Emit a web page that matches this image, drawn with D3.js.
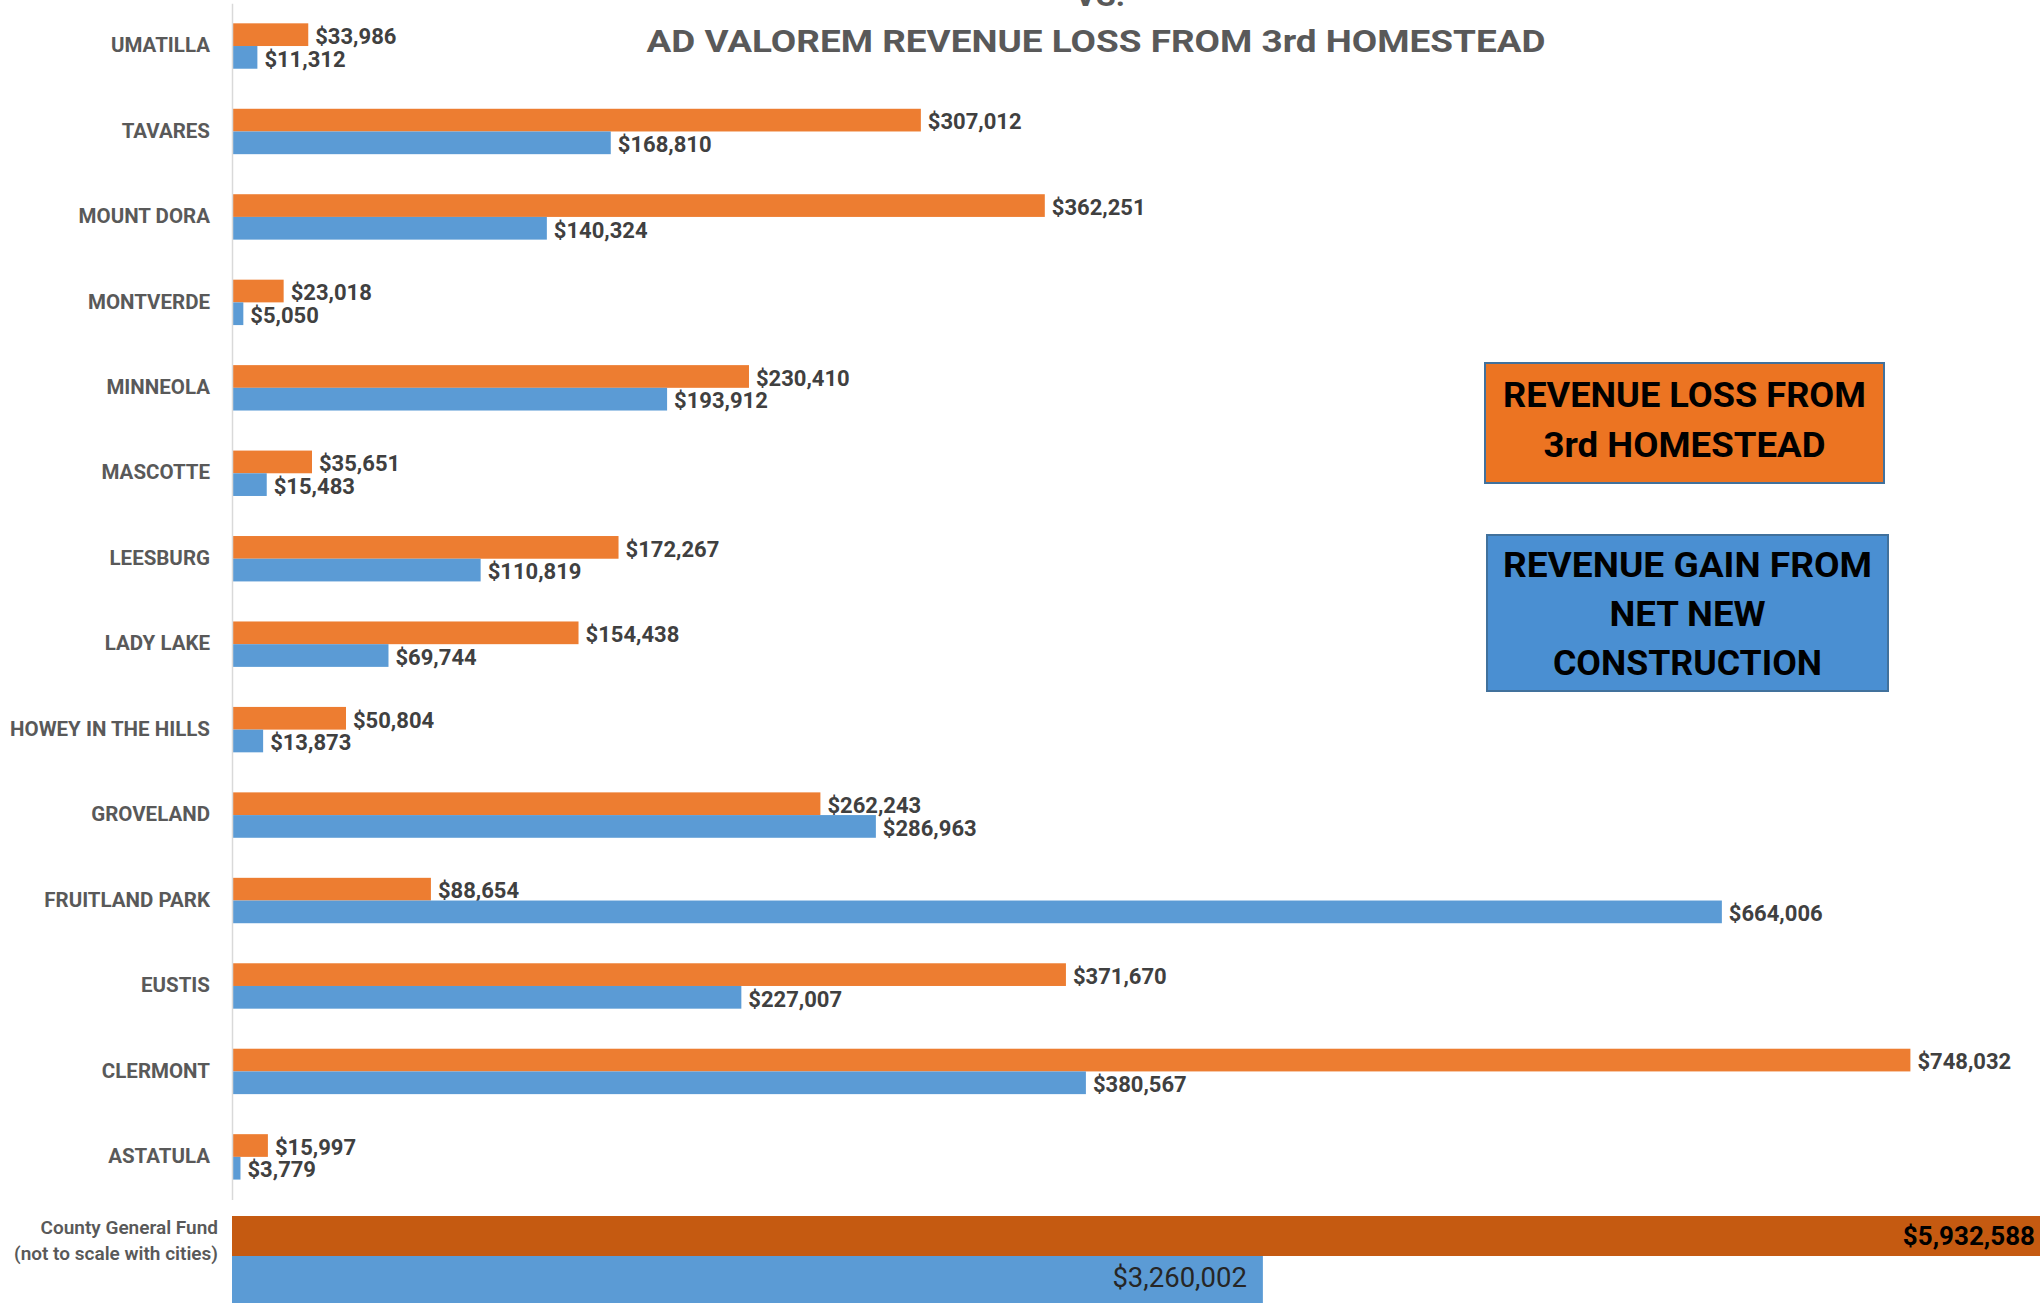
<!DOCTYPE html>
<html><head><meta charset="utf-8">
<script src="https://cdn.jsdelivr.net/npm/d3@7"></script>
<style>
html,body{margin:0;padding:0;background:#fff;}
svg{display:block;font-family:Roboto,"Liberation Sans",sans-serif;}
</style></head><body>
<svg id="chart" width="2040" height="1303"></svg>
<script>
const categories = ["UMATILLA","TAVARES","MOUNT DORA","MONTVERDE","MINNEOLA","MASCOTTE","LEESBURG","LADY LAKE","HOWEY IN THE HILLS","GROVELAND","FRUITLAND PARK","EUSTIS","CLERMONT","ASTATULA"];
const lossValues = [33986,307012,362251,23018,230410,35651,172267,154438,50804,262243,88654,371670,748032,15997];
const gainValues = [11312,168810,140324,5050,193912,15483,110819,69744,13873,286963,664006,227007,380567,3779];
const seriesKeys = ["loss","gain"];
const countyLines = ["County General Fund","(not to scale with cities)"];
const countyLoss = 5932588;
const countyGain = 3260002;
const titleTop = "VS.";
const titleText = "AD VALOREM REVENUE LOSS FROM 3rd HOMESTEAD";
const legendLoss = ["REVENUE LOSS FROM","3rd HOMESTEAD"];
const legendGain = ["REVENUE GAIN FROM","NET NEW","CONSTRUCTION"];
const xMax = 800000;

const W = 2040, H = 1303;
const colors = {loss:"#ED7D31", gain:"#5B9BD5", countyLoss:"#C55A11", countyGain:"#5B9BD5"};
const fmt = d => "$" + d3.format(",")(d);

const svg = d3.select("#chart");
const axisX = 232;

const x = d3.scaleLinear().domain([0, xMax]).range([axisX, 2027]);
const y = d3.scaleBand().domain(categories).range([3.3, 1199.6]).padding(0);
const ySub = d3.scaleBand().domain(seriesKeys).range([0, y.bandwidth()]).paddingInner(0).paddingOuter(0.882);

const rows = categories.map((c,i) => ({cat:c, loss:lossValues[i], gain:gainValues[i]}));

// bars
const g = svg.append("g");
rows.forEach(r => {
  seriesKeys.forEach(k => {
    g.append("rect")
      .attr("x", x(0))
      .attr("y", y(r.cat) + ySub(k))
      .attr("width", x(r[k]) - x(0))
      .attr("height", ySub.bandwidth())
      .attr("fill", colors[k]);
    g.append("text")
      .attr("x", x(r[k]) + 7)
      .attr("y", y(r.cat) + ySub(k) + ySub.bandwidth()/2)
      .attr("dy", "0.42em")
      .attr("font-size", 22)
      .attr("font-weight", 700)
      .attr("fill", "#404040")
      .text(fmt(r[k]));
  });
});

// axis
const ax = svg.append("g").attr("transform", `translate(${axisX},0)`)
  .call(d3.axisLeft(y).tickSize(0).tickSizeOuter(0).tickPadding(22));
ax.select(".domain").attr("stroke", "#d9d9d9").attr("stroke-width", 1.5);
ax.selectAll(".tick text")
  .attr("font-size", 20.5).attr("font-weight", 700).attr("fill", "#595959")
  .attr("font-family", "Roboto, sans-serif").attr("dy", "0.3em");

// county row (separate scale: not to scale with cities)
const yC = d3.scaleBand().domain(seriesKeys).range([1216, 1296]);
const xC = d3.scaleLinear().domain([0, countyLoss]).range([axisX, 2108]);
svg.append("rect").attr("x", xC(0)).attr("y", yC("loss"))
  .attr("width", xC(countyLoss) - xC(0)).attr("height", yC.bandwidth())
  .attr("fill", colors.countyLoss);
svg.append("rect").attr("x", xC(0)).attr("y", yC("gain"))
  .attr("width", xC(countyGain) - xC(0)).attr("height", yC.bandwidth() * 1.3)
  .attr("fill", colors.countyGain);
svg.append("text").attr("x", Math.min(xC(countyLoss), W) - 5)
  .attr("y", yC("loss") + yC.bandwidth()/2).attr("dy", "0.36em")
  .attr("text-anchor", "end").attr("font-size", 26).attr("font-weight", 700)
  .attr("fill", "#000").text(fmt(countyLoss));
svg.append("text").attr("x", xC(countyGain) - 16)
  .attr("y", yC("gain") + yC.bandwidth()/2).attr("dy", "0.4em")
  .attr("text-anchor", "end").attr("font-size", 27.5).attr("font-weight", 400)
  .attr("fill", "#262626").text(fmt(countyGain));
const cMid = yC("loss") + yC.bandwidth() * 0.6;
countyLines.forEach((t, i) => {
  svg.append("text").attr("x", 218).attr("y", cMid + (i - 0.5) * 26)
    .attr("dy", "0.36em").attr("text-anchor", "end")
    .attr("font-size", 19).attr("font-weight", 600).attr("fill", "#595959")
    .text(t);
});

// title
svg.append("text").attr("x", 1100).attr("y", 6).attr("text-anchor", "middle")
  .attr("font-size", 32).attr("font-weight", 700).attr("fill", "#595959").text(titleTop);
svg.append("text").attr("x", 1096).attr("y", 52).attr("text-anchor", "middle")
  .attr("font-size", 32).attr("font-weight", 700).attr("fill", "#595959")
  .attr("textLength", 899).attr("lengthAdjust", "spacingAndGlyphs").text(titleText);

// legend boxes
function legendBox(x0, y0, w, h, fill, lines, baselines, widths) {
  svg.append("rect").attr("x", x0).attr("y", y0).attr("width", w).attr("height", h)
    .attr("fill", fill).attr("stroke", "#41719C").attr("stroke-width", 2);
  lines.forEach((t, i) => {
    svg.append("text").attr("x", x0 + w/2).attr("y", baselines[i])
      .attr("text-anchor", "middle").attr("font-size", 35).attr("font-weight", 700)
      .attr("fill", "#000").attr("textLength", widths[i]).attr("lengthAdjust", "spacingAndGlyphs")
      .text(t);
  });
}
legendBox(1485, 363, 399, 120, "#EC7422", legendLoss, [407, 457], [363, 282]);
legendBox(1487, 535, 401, 156, "#4A8FD2", legendGain, [577, 626, 675], [369, 156, 269]);
</script>
</body></html>
